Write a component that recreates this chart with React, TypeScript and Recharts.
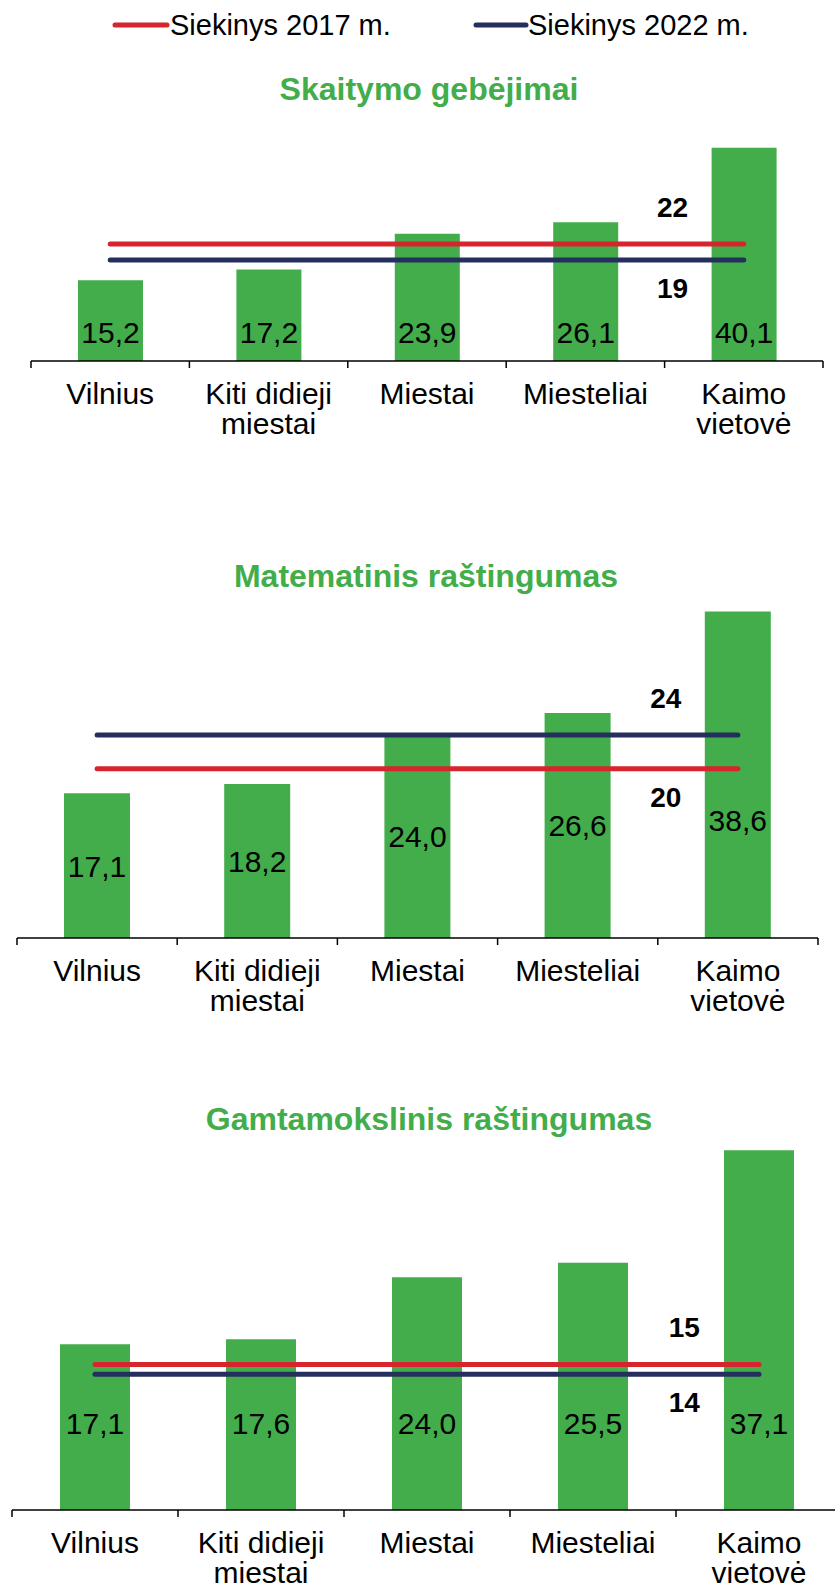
import React from 'react';
import { ComposedChart, Bar, Line, XAxis, YAxis, LabelList } from 'recharts';

const CATEGORIES = ['Vilnius', 'Kiti didieji miestai', 'Miestai', 'Miesteliai', 'Kaimo vietovė'];
const CATEGORY_LINES = [['Vilnius'], ['Kiti didieji', 'miestai'], ['Miestai'], ['Miesteliai'], ['Kaimo', 'vietovė']];

const READING = [15.2, 17.2, 23.9, 26.1, 40.1];
const MATH = [17.1, 18.2, 24.0, 26.6, 38.6];
const SCIENCE = [17.1, 17.6, 24.0, 25.5, 37.1];

// targets: [2017, 2022]
const READING_TARGETS = [22, 19];
const MATH_TARGETS = [20, 24];
const SCIENCE_TARGETS = [15, 14];

const TITLES = ['Skaitymo gebėjimai', 'Matematinis raštingumas', 'Gamtamokslinis raštingumas'];
const LEGEND = ['Siekinys 2017 m.', 'Siekinys 2022 m.'];

const GREEN = '#42ad4a';
const RED = '#d6252d';
const NAVY = '#242f5d';
const FONT = '"Liberation Sans", Arial, sans-serif';

const buildRows = (values: number[], targets: number[]) =>
  CATEGORIES.map((name, i) => ({ name, value: values[i], t2017: targets[0], t2022: targets[1] }));

const fmt = (v: number) => v.toFixed(1).replace('.', ',');

type PanelProps = {
  values: number[];
  targets: number[];
  top: number;
  width: number;
  height: number;
  margin: { top: number; right: number; left: number; bottom: number };
  yMax: number;
  barSize: number;
  labelY: (bottom: number, h: number) => number;
};

const Panel = ({ values, targets, top, width, height, margin, yMax, barSize, labelY }: PanelProps) => {
  const data = buildRows(values, targets);
  const bw = (width - margin.left - margin.right) / CATEGORIES.length;
  const hi = Math.max(targets[0], targets[1]);

  const renderTick = (props: any) => {
    const { x, y, index } = props;
    const lines = CATEGORY_LINES[index];
    return (
      <g>
        <line x1={x - bw / 2} x2={x - bw / 2} y1={y} y2={y + 7} stroke="#000" strokeWidth={1.5} />
        {index === CATEGORIES.length - 1 && (
          <line x1={x + bw / 2} x2={x + bw / 2} y1={y} y2={y + 7} stroke="#000" strokeWidth={1.5} />
        )}
        <text x={x} y={y + 43} textAnchor="middle" fontSize={30} fontFamily={FONT} fill="#000">
          {lines.map((l, i) => (
            <tspan key={i} x={x} dy={i === 0 ? 0 : 30}>
              {l}
            </tspan>
          ))}
        </text>
      </g>
    );
  };

  const renderBarLabel = (props: any) => {
    const { x, y, width: w, height: h, value } = props;
    return (
      <text x={x + w / 2} y={labelY(y + h, h)} textAnchor="middle" fontSize={30} fontFamily={FONT} fill="#000">
        {fmt(value)}
      </text>
    );
  };

  // bold target value printed once, between the last two categories
  const renderTargetLabel = (props: any) => {
    const { x, y, value, index } = props;
    if (index !== 3) return null;
    const above = value === hi;
    return (
      <text
        x={x + bw * 0.55}
        y={above ? y - 37 : y + 28}
        dy="0.35em"
        textAnchor="middle"
        fontSize={28}
        fontWeight="bold"
        fontFamily={FONT}
        fill="#000"
      >
        {value}
      </text>
    );
  };

  return (
    <div style={{ position: 'absolute', left: 0, top }}>
      <ComposedChart width={width} height={height} data={data} margin={margin}>
        <XAxis
          dataKey="name"
          interval={0}
          tickLine={false}
          tickSize={0}
          tickMargin={0}
          height={85}
          axisLine={{ stroke: '#000', strokeWidth: 1.5 }}
          tick={renderTick}
        />
        <YAxis hide domain={[0, yMax]} type="number" />
        <Bar dataKey="value" fill={GREEN} barSize={barSize} isAnimationActive={false}>
          <LabelList dataKey="value" content={renderBarLabel} />
        </Bar>
        <Line
          dataKey="t2017"
          stroke={RED}
          strokeWidth={5}
          strokeLinecap="round"
          dot={false}
          activeDot={false}
          isAnimationActive={false}
        >
          <LabelList dataKey="t2017" content={renderTargetLabel} />
        </Line>
        <Line
          dataKey="t2022"
          stroke={NAVY}
          strokeWidth={5}
          strokeLinecap="round"
          dot={false}
          activeDot={false}
          isAnimationActive={false}
        >
          <LabelList dataKey="t2022" content={renderTargetLabel} />
        </Line>
      </ComposedChart>
    </div>
  );
};

const Overlay = () => (
  <svg width={835} height={1588} style={{ position: 'absolute', left: 0, top: 0 }}>
    <line x1={115} x2={167} y1={25} y2={25} stroke={RED} strokeWidth={5} strokeLinecap="round" />
    <text x={170} y={35} fontSize={29} fontFamily={FONT} fill="#000">{LEGEND[0]}</text>
    <line x1={476} x2={526} y1={25} y2={25} stroke={NAVY} strokeWidth={5} strokeLinecap="round" />
    <text x={528} y={35} fontSize={29} fontFamily={FONT} fill="#000">{LEGEND[1]}</text>
    <text x={429} y={100} textAnchor="middle" fontSize={32} fontWeight="bold" fontFamily={FONT} fill={GREEN}>
      {TITLES[0]}
    </text>
    <text x={426} y={587} textAnchor="middle" fontSize={32} fontWeight="bold" fontFamily={FONT} fill={GREEN}>
      {TITLES[1]}
    </text>
    <text x={429} y={1130} textAnchor="middle" fontSize={32} fontWeight="bold" fontFamily={FONT} fill={GREEN}>
      {TITLES[2]}
    </text>
  </svg>
);

export default function App() {
  return (
    <div
      style={{
        position: 'absolute',
        left: 0,
        top: 0,
        width: 835,
        height: 1588,
        overflow: 'hidden',
        background: '#fff',
        fontFamily: FONT,
      }}
    >
      <Overlay />
      <Panel
        values={READING}
        targets={READING_TARGETS}
        top={100}
        width={835}
        height={346}
        margin={{ top: 26.92, right: 12, left: 31, bottom: 0 }}
        yMax={44}
        barSize={65}
        labelY={(bottom) => bottom - 18}
      />
      <Panel
        values={MATH}
        targets={MATH_TARGETS}
        top={570}
        width={835}
        height={453}
        margin={{ top: 29.6, right: 17, left: 17, bottom: 0 }}
        yMax={40}
        barSize={66}
        labelY={(bottom, h) => bottom - Math.min(h / 2, 118) + 11}
      />
      <Panel
        values={SCIENCE}
        targets={SCIENCE_TARGETS}
        top={1120}
        width={850}
        height={475}
        margin={{ top: 21.4, right: 8, left: 12, bottom: 0 }}
        yMax={38}
        barSize={70}
        labelY={(bottom) => bottom - 76}
      />
    </div>
  );
}
